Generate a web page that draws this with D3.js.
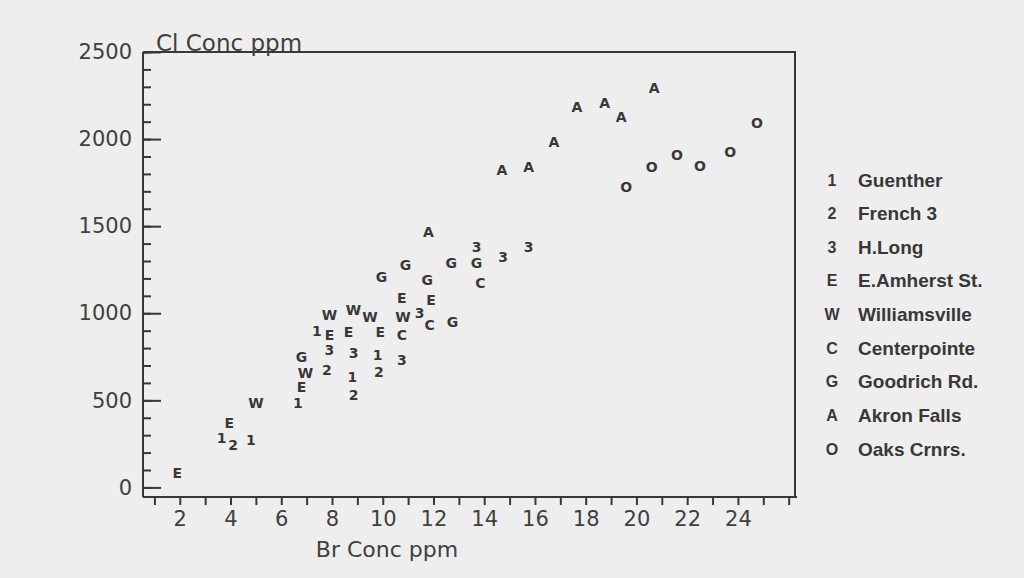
<!DOCTYPE html>
<html>
<head>
<meta charset="utf-8">
<script src="https://cdn.jsdelivr.net/npm/d3@7/dist/d3.min.js"></script>
<style>
	body { margin: 0; background: #eeeeee; }
	svg { display: block; }
	.axis path, .axis line { stroke: #383838; stroke-width: 2; }
	.axis text { fill: #404040; font-family: "DejaVu Sans", sans-serif; font-size: 21px; }
	.mark { fill: #383838; font-family: "DejaVu Sans", sans-serif; font-weight: bold; font-size: 14px; }
	.legend text { fill: #383838; font-family: "Liberation Sans", sans-serif; font-weight: bold; font-size: 19px; }
	.title { fill: #404040; font-family: "DejaVu Sans", sans-serif; font-size: 23px; }
</style>
</head>
<body>
<svg width="1024" height="578"></svg>
<script>
// site symbols + names (legend order)
var siteSymbols = ["1", "2", "3", "E", "W", "C", "G", "A", "O"];
var siteNames = ["Guenther", "French 3", "H.Long", "E.Amherst St.", "Williamsville",
	"Centerpointe", "Goodrich Rd.", "Akron Falls", "Oaks Crnrs."];

// [Br ppm, Cl ppm] per site
var guenther = [[7.4, 900], [6.65, 485], [3.65, 282], [4.8, 270], [8.8, 632], [9.8, 759]];
var french3 = [[4.1, 241], [7.8, 672], [8.85, 529], [9.85, 661]];
var hLong = [[7.9, 787], [8.85, 770], [10.75, 730], [11.45, 1000], [13.7, 1379], [14.75, 1322], [15.75, 1379]];
var amherst = [[1.9, 80], [3.95, 368], [6.8, 575], [7.9, 874], [8.65, 891], [9.9, 891], [10.75, 1086], [11.9, 1075]];
var williamsville = [[5.0, 483], [6.95, 655], [7.9, 988], [8.85, 1017], [9.5, 977], [10.8, 977]];
var centerpointe = [[10.75, 874], [11.85, 935], [13.85, 1172]];
var goodrich = [[6.8, 747], [9.95, 1207], [10.9, 1276], [11.75, 1190], [12.7, 1287], [13.7, 1287], [12.75, 948]];
var akronFalls = [[11.8, 1465], [14.7, 1822], [15.75, 1839], [16.75, 1983], [17.65, 2184], [18.75, 2207], [19.4, 2126], [20.7, 2293]];
var oaksCorners = [[19.6, 1724], [20.6, 1839], [21.6, 1908], [22.5, 1845], [23.7, 1925], [24.75, 2092]];

var siteData = [guenther, french3, hLong, amherst, williamsville, centerpointe, goodrich, akronFalls, oaksCorners];

var xTickLabels = [2, 4, 6, 8, 10, 12, 14, 16, 18, 20, 22, 24];
var yTickLabels = [0, 500, 1000, 1500, 2000, 2500];

var svg = d3.select("svg");

var x = d3.scaleLinear().domain([0.55, 26.25]).range([143, 795]);
var y = d3.scaleLinear().domain([-55, 2500]).range([497, 52]);

// x axis, a tick at every unit, labels on evens
var xAxis = d3.axisBottom(x)
	.tickValues(d3.range(1, 27))
	.tickSize(8).tickSizeOuter(0).tickPadding(6)
	.tickFormat(function(d){ return xTickLabels.indexOf(d) >= 0 ? d : ""; });
svg.append("g").attr("class", "axis")
	.attr("transform", "translate(0," + y(-55) + ")")
	.call(xAxis)
	.select(".domain").attr("d", "M143,0H797");

// y axis: minor ticks inside, then majors with labels
var yMinor = d3.axisLeft(y).tickValues(d3.range(0, 2501, 100)).tickSize(-8).tickSizeOuter(0).tickFormat("");
var yMajor = d3.axisLeft(y).tickValues(yTickLabels).tickSize(-18).tickSizeOuter(0).tickPadding(11)
	.tickFormat(d3.format("d"));
svg.append("g").attr("class", "axis").attr("transform", "translate(143,0)").call(yMinor)
	.select(".domain").attr("d", "M0,52V497");
svg.append("g").attr("class", "axis").attr("transform", "translate(143,0)").call(yMajor)
	.select(".domain").remove();

// top and right frame
svg.append("path")
	.attr("d", "M143,52H795V497")
	.attr("fill", "none").attr("stroke", "#383838").attr("stroke-width", 2);

// titles
svg.append("text").attr("class", "title").attr("x", 156).attr("y", 51).text("Cl Conc ppm");
svg.append("text").attr("class", "title").attr("x", 387).attr("y", 557)
	.attr("text-anchor", "middle").style("font-size", "22px").text("Br Conc ppm");

// marks - each point drawn as its site letter
siteData.forEach(function(points, i){
	svg.append("g").selectAll("text")
		.data(points).enter()
		.append("text").attr("class", "mark")
		.attr("x", function(d){ return x(d[0]); })
		.attr("y", function(d){ return y(d[1]); })
		.attr("text-anchor", "middle")
		.attr("dominant-baseline", "central")
		.text(siteSymbols[i]);
});

// legend
var legendY = d3.scalePoint().domain(siteNames).range([180, 449]);
var legend = svg.append("g").attr("class", "legend");
var rows = legend.selectAll("g").data(siteNames).enter().append("g")
	.attr("transform", function(d){ return "translate(0," + legendY(d) + ")"; });
rows.append("text").attr("x", 832).attr("text-anchor", "middle")
	.attr("dominant-baseline", "central").style("font-size", "16px")
	.text(function(d, i){ return siteSymbols[i]; });
rows.append("text").attr("x", 858).attr("dominant-baseline", "central")
	.text(function(d){ return d; });
</script>
</body>
</html>
